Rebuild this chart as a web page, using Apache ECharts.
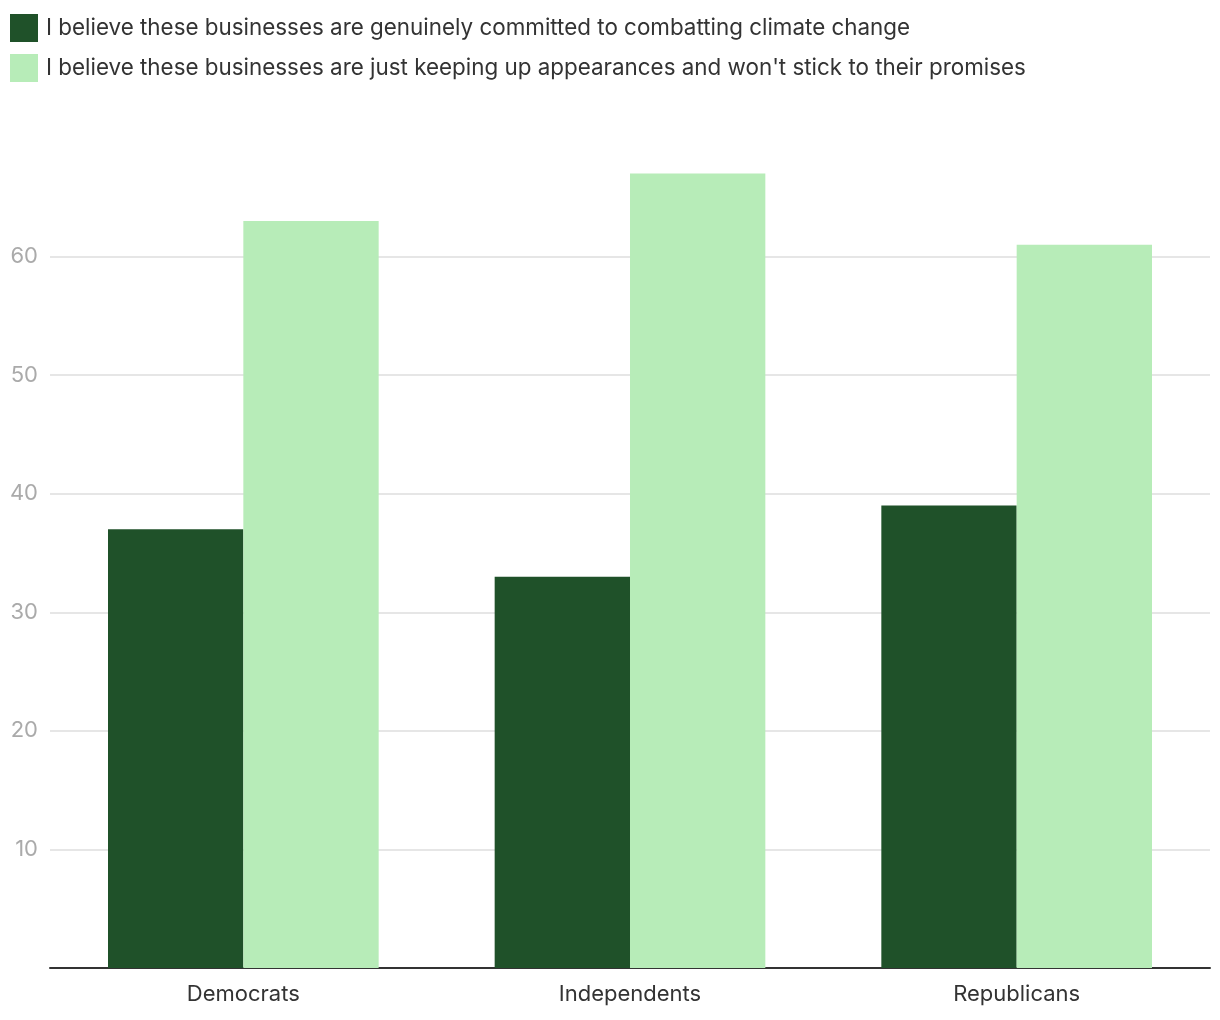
<!DOCTYPE html>
<html><head><meta charset="utf-8">
<script src="https://cdn.jsdelivr.net/npm/echarts@6/dist/echarts.min.js"></script>
<style>html,body{margin:0;padding:0;background:#fff}#c{width:1220px;height:1020px}</style>
</head><body><div id="c"></div>
<script>
var categories = ['Democrats', 'Independents', 'Republicans'];
var seriesNames = [
  'I believe these businesses are genuinely committed to combatting climate change',
  "I believe these businesses are just keeping up appearances and won't stick to their promises"
];
var committed = [37, 33, 39];
var appearances = [63, 67, 61];
var colors = ['#1f5129', '#b7ecb8'];
var font = 'Inter, "Open Sans", sans-serif';

var chart = echarts.init(document.getElementById('c'), null, {renderer: 'canvas'});
chart.setOption({
  animation: false,
  textStyle: {fontFamily: font},
  color: colors,
  legend: {
    orient: 'vertical', left: 10, top: 14, padding: 0,
    itemWidth: 28, itemHeight: 28, itemGap: 12, icon: 'rect',
    textStyle: {fontSize: 22.4, color: '#333', fontFamily: font, padding: [2, 0, 0, 3]},
    data: seriesNames
  },
  grid: {left: 50, right: 10, top: 138, bottom: 52, containLabel: false},
  xAxis: {
    type: 'category', data: categories,
    axisLine: {lineStyle: {color: '#333', width: 2}},
    axisTick: {show: false},
    axisLabel: {fontSize: 22, color: '#333', margin: 15, fontFamily: font}
  },
  yAxis: {
    type: 'value', min: 0, max: 70, interval: 10,
    axisLine: {show: false}, axisTick: {show: false},
    axisLabel: {fontSize: 22, color: '#aaa', margin: 12, showMinLabel: false, showMaxLabel: false, fontFamily: font},
    splitLine: {lineStyle: {color: '#e6e6e6', width: 2}, showMinLine: false, showMaxLine: false}
  },
  series: [
    {name: seriesNames[0], type: 'bar', data: committed, barGap: '0%', barCategoryGap: '30%'},
    {name: seriesNames[1], type: 'bar', data: appearances, barGap: '0%', barCategoryGap: '30%'}
  ]
});
</script></body></html>
